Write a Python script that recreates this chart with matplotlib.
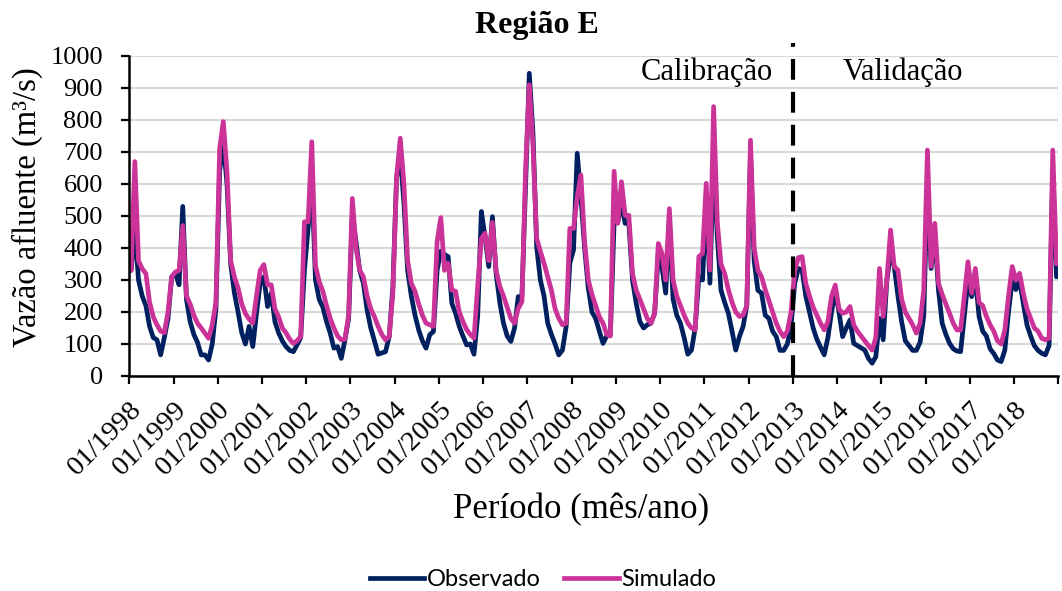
import numpy as np
import matplotlib
matplotlib.use("Agg")
import matplotlib.pyplot as plt
from matplotlib.lines import Line2D
from matplotlib import transforms

# Monthly inflow (m³/s), Jan 1998 .. Dec 2018, one row per year
anos = list(range(1998, 2019))
rotulos = [f"01/{a}" for a in anos]

observado = [
    330, 460, 300, 250, 220, 155, 120, 113, 66, 120, 180, 310,    # 1998
    320, 285, 530, 240, 170, 130, 105, 66, 66, 50, 100, 210,      # 1999
    640, 730, 600, 350, 260, 200, 135, 100, 155, 92, 195, 290,    # 2000
    310, 217, 259, 170, 135, 110, 92, 80, 76, 97, 120, 330,       # 2001
    460, 620, 300, 240, 215, 170, 134, 87, 92, 55, 113, 180,      # 2002
    500, 420, 330, 290, 206, 150, 110, 68, 72, 76, 123, 280,      # 2003
    620, 690, 540, 330, 250, 190, 144, 110, 87, 129, 139, 330,    # 2004
    390, 380, 373, 227, 196, 155, 125, 97, 100, 68, 186, 514,     # 2005
    435, 342, 498, 320, 230, 165, 125, 108, 150, 248, 248, 600,   # 2006
    946, 760, 404, 300, 250, 165, 130, 100, 66, 81, 155, 352,     # 2007
    394, 696, 560, 400, 275, 200, 180, 140, 102, 125, 130, 477,   # 2008
    480, 540, 477, 477, 300, 227, 170, 150, 160, 165, 196, 380,   # 2009
    340, 259, 487, 240, 190, 165, 120, 68, 81, 150, 310, 300,     # 2010
    550, 290, 680, 435, 268, 230, 196, 140, 81, 123, 155, 220,    # 2011
    690, 360, 268, 259, 190, 180, 140, 123, 80, 80, 100, 155,     # 2012
    290, 336, 331, 250, 200, 150, 115, 90, 66, 120, 200, 268,     # 2013
    200, 123, 150, 175, 102, 95, 88, 81, 55, 40, 60, 180,         # 2014
    113, 300, 383, 342, 250, 170, 110, 95, 80, 80, 105, 186,      # 2015
    600, 336, 440, 268, 165, 130, 102, 85, 78, 76, 186, 300,      # 2016
    248, 310, 186, 140, 125, 85, 70, 50, 45, 81, 200, 300,        # 2017
    270, 300, 227, 160, 125, 95, 80, 71, 66, 95, 640, 310,        # 2018
]

simulado = [
    330, 670, 360, 335, 320, 230, 185, 160, 140, 135, 200, 310,   # 1998
    325, 330, 470, 250, 225, 190, 165, 150, 134, 118, 160, 230,   # 1999
    710, 795, 640, 360, 310, 275, 225, 195, 178, 165, 250, 330,   # 2000
    348, 285, 285, 210, 185, 150, 135, 115, 102, 110, 123, 482,   # 2001
    482, 732, 345, 295, 265, 220, 180, 150, 125, 113, 115, 190,   # 2002
    555, 400, 331, 310, 250, 210, 185, 155, 130, 113, 123, 260,   # 2003
    620, 743, 600, 360, 290, 265, 225, 190, 165, 160, 155, 420,   # 2004
    495, 330, 352, 268, 265, 200, 170, 145, 130, 118, 280, 430,   # 2005
    446, 360, 480, 330, 280, 250, 215, 180, 165, 211, 232, 650,   # 2006
    910, 720, 430, 390, 352, 310, 268, 210, 180, 160, 165, 461,   # 2007
    461, 560, 628, 420, 300, 255, 220, 185, 165, 130, 125, 640,   # 2008
    477, 607, 502, 502, 320, 268, 240, 210, 180, 165, 196, 414,   # 2009
    383, 300, 523, 300, 250, 220, 190, 165, 150, 144, 373, 383,   # 2010
    602, 331, 842, 480, 350, 320, 270, 230, 200, 186, 190, 220,   # 2011
    737, 400, 331, 310, 270, 235, 200, 165, 140, 123, 140, 200,   # 2012
    330, 370, 373, 290, 250, 215, 190, 165, 144, 170, 250, 284,   # 2013
    210, 196, 200, 217, 160, 140, 125, 110, 95, 81, 120, 336,     # 2014
    186, 300, 456, 342, 331, 240, 200, 180, 160, 134, 165, 268,   # 2015
    706, 342, 477, 290, 255, 225, 196, 165, 144, 144, 248, 357,   # 2016
    259, 336, 230, 220, 186, 160, 140, 110, 100, 144, 250, 342,   # 2017
    300, 321, 259, 210, 180, 150, 140, 118, 113, 118, 706, 350,   # 2018
]

inicio_validacao = 2013

COR_OBS = "#002060"
COR_SIM = "#CC3399"
SERIF = ["Liberation Serif", "DejaVu Serif"]
LW = 3.4

W, H = 1062, 591
fig = plt.figure(figsize=(W / 100, H / 100), dpi=100)
ax = fig.add_axes([129.3 / W, 1 - 376 / H, (1058.3 - 129.3) / W, 320 / H])

meses = np.arange(len(observado))
ax.plot(meses, observado, color=COR_OBS, lw=LW, solid_joinstyle="round",
        solid_capstyle="round", zorder=3)
ax.plot(meses, simulado, color=COR_SIM, lw=LW, solid_joinstyle="round",
        solid_capstyle="round", zorder=4)

ax.set_xlim(-0.5, len(meses) - 0.5)
ax.set_ylim(0, 1000)

# year boundaries as ticks
pos_ticks = [-0.5 + 12 * k for k in range(len(anos) + 1)]
ax.set_xticks(pos_ticks)
ax.set_xticklabels(rotulos + [""], rotation=45, ha="right", va="top",
                   rotation_mode="anchor", fontsize=20.5, family=SERIF)
desloc = transforms.ScaledTranslation(4 / 100, 0, fig.dpi_scale_trans)
for lbl in ax.get_xticklabels():
    lbl.set_transform(lbl.get_transform() + desloc)
ax.set_yticks(range(0, 1001, 100))
ax.set_yticklabels([str(v) for v in range(0, 1001, 100)], fontsize=19, family=SERIF)

ax.tick_params(axis="x", direction="out", length=6, width=1.6, pad=9, color="black")
ax.tick_params(axis="y", direction="out", length=6, width=1.6, pad=13, color="black")

ax.yaxis.grid(True, color="#D9D9D9", lw=1.6, zorder=0)
ax.set_axisbelow(True)
for s in ("top", "right"):
    ax.spines[s].set_visible(False)
for s in ("left", "bottom"):
    ax.spines[s].set_linewidth(1.8)
    ax.spines[s].set_color("black")
    ax.spines[s].set_zorder(5)

# calibration / validation split
x_div = (inicio_validacao - anos[0]) * 12 - 0.5
ax.plot([x_div, x_div], [0, 1040], color="black", lw=3.0, dashes=(5, 2.9),
        clip_on=False, zorder=6)
ax.text(x_div - 5.3, 950, "Calibração", ha="right", va="center",
        fontsize=22, family=SERIF)
ax.text(x_div + 13.6, 950, "Validação", ha="left", va="center",
        fontsize=22, family=SERIF)

fig.text(537 / W, 1 - 25 / H, "Região E", ha="center", va="center",
         fontsize=23, fontweight="bold", family=SERIF)
fig.text(27 / W, 1 - 207 / H, "Vazão afluente (m³/s)", ha="center", va="center",
         rotation=90, fontsize=23.5, family=SERIF)
fig.text(581 / W, 1 - 510 / H, "Período (mês/ano)", ha="center", va="center",
         fontsize=25, family=SERIF)

handles = [Line2D([], [], color=COR_OBS, lw=LW),
           Line2D([], [], color=COR_SIM, lw=LW)]
fig.legend(handles, ["Observado", "Simulado"], loc="center",
           bbox_to_anchor=(543 / W, 1 - 580 / H), ncol=2, frameon=False,
           prop={"family": ["Lato", "DejaVu Sans"], "size": 17},
           handlelength=2.3, handletextpad=0.1, columnspacing=1.0,
           borderpad=0, borderaxespad=0)

fig.savefig("out.png", dpi=100)
